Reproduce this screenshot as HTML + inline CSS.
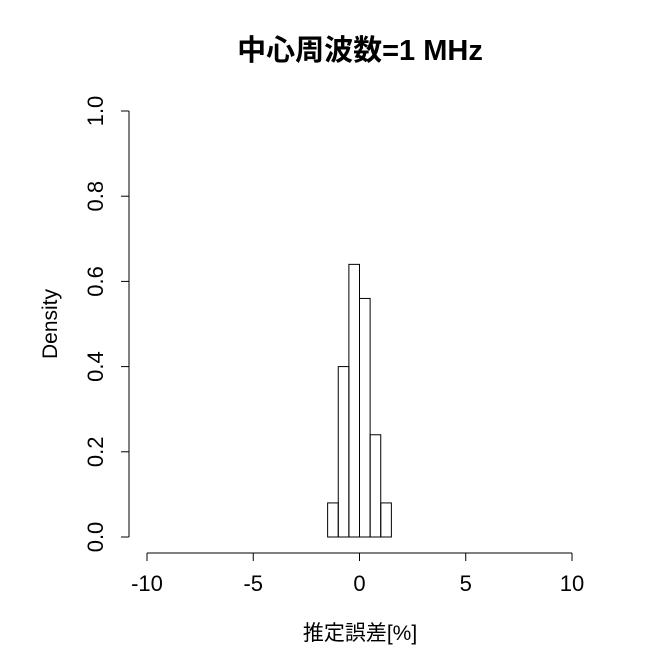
<!DOCTYPE html>
<html><head><meta charset="utf-8"><style>
body{margin:0;background:#fff}
svg{display:block;font-family:"Liberation Sans","Noto Sans CJK JP",sans-serif}
</style></head><body>
<svg id="chart" width="672" height="672">
<rect width="672" height="672" fill="#fff"/>
<text x="360" y="60" text-anchor="middle" font-size="29" font-weight="bold">中心周波数=1 MHz</text>
<text x="360" y="640" text-anchor="middle" font-size="21">推定誤差[%]</text>
<text transform="translate(57,324) rotate(-90)" text-anchor="middle" font-size="21">Density</text>
<g id="bars"></g><g id="xaxis"></g><g id="yaxis"></g>
</svg>
<script>
const binStarts=[-1.5,-1,-0.5,0,0.5,1];
const binWidth=0.5;
const densities=[0.08,0.4,0.64,0.56,0.24,0.08];
const xTicks=[-10,-5,0,5,10];
const yTicks=[0,0.2,0.4,0.6,0.8,1.0];
const yTickLabels=["0.0","0.2","0.4","0.6","0.8","1.0"];
const NS="http://www.w3.org/2000/svg";
const xs=v=>359.5+v*21.25;
const ys=v=>537-v*426;
function mk(t,a,p){const e=document.createElementNS(NS,t);for(const k in a)e.setAttribute(k,a[k]);p.appendChild(e);return e;}
const bars=document.getElementById('bars');
binStarts.forEach((b,i)=>{
 const r=mk('rect',{x:xs(b),y:ys(densities[i]),width:xs(b+binWidth)-xs(b),height:ys(0)-ys(densities[i]),fill:'none',stroke:'#000','stroke-width':1},bars);
 
 
});
const xa=document.getElementById('xaxis');


mk('line',{x1:xs(xTicks[0]),x2:xs(xTicks[xTicks.length-1]),y1:553,y2:553,stroke:'#000'},xa);
xTicks.forEach(t=>{
 mk('line',{x1:xs(t),x2:xs(t),y1:553,y2:561,stroke:'#000'},xa);
 const tx=mk('text',{x:xs(t),y:591,'text-anchor':'middle','font-size':22},xa);
 tx.textContent=t;
 
 
});
const ya=document.getElementById('yaxis');


mk('line',{x1:129,x2:129,y1:ys(yTicks[yTicks.length-1]),y2:ys(yTicks[0]),stroke:'#000'},ya);
yTicks.forEach((t,i)=>{
 mk('line',{x1:121,x2:129,y1:ys(t),y2:ys(t),stroke:'#000'},ya);
 const tx=mk('text',{transform:`translate(103,${ys(t)}) rotate(-90)`,'text-anchor':'middle','font-size':22},ya);
 tx.textContent=yTickLabels[i];
 
 
});
</script>
</body></html>
